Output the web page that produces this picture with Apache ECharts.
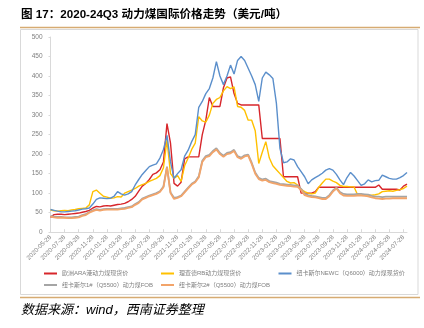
<!DOCTYPE html>
<html>
<head>
<meta charset="utf-8">
<script src="https://cdn.jsdelivr.net/npm/echarts@6/dist/echarts.min.js"></script>
<style>
html,body{margin:0;padding:0;background:#fff;}
#c{width:424px;height:328px;}
</style>
</head>
<body>
<div id="c"></div>
<script>
const titleText = '图 17：2020-24Q3 动力煤国际价格走势（美元/吨）';
const sourceText = '数据来源：wind，西南证券整理';
const tickLabels = ['2020-05-28','2020-07-28','2020-09-28','2020-11-28','2021-01-28','2021-03-28','2021-05-28','2021-07-28','2021-09-28','2021-11-28','2022-01-28','2022-03-28','2022-05-28','2022-07-28','2022-09-28','2022-11-28','2023-01-28','2023-03-28','2023-05-28','2023-07-28','2023-09-28','2023-11-28','2024-01-28','2024-03-28','2024-05-28','2024-07-28'];
const seriesNames = ['欧洲ARA港动力煤现货价','理查德RB动力煤现货价','纽卡斯尔NEWC（Q6000）动力煤现货价','纽卡斯尔1#（Q5500）动力煤FOB','纽卡斯尔2#（Q5500）动力煤FOB'];
const yTicks = [0,50,100,150,200,250,300,350,400,450,500];

// semi-monthly values
const ara = [38,45,46,46,45,46,47,48,49,51, 53,56,62,66,65,67,68,67,69,71, 72,74,78,84,92,105,118,125,135,148, 152,160,180,278,228,125,118,128,188,193, 193,193,193,250,287,345,322,322,322,370, 395,398,355,330,326,326,326,326,326,326, 240,240,240,240,240,240,142,142,142,142, 142,100,100,100,100,104,115,115,115,115, 115,115,115,115,115,115,115,115,115,115, 115,115,115,121,110,110,110,110,110,108, 118,123];
const rb = [57,55,54,55,56,55,57,58,60,61, 62,70,104,108,100,92,90,87,88,91, 90,100,104,108,112,118,122,125,130,134, 138,145,165,236,150,138,145,130,170,190, 212,228,296,285,282,300,330,340,345,362, 373,368,372,322,320,312,287,287,260,176, 205,232,190,170,160,150,140,130,126,127, 121,110,104,100,98,100,115,126,136,136, 131,127,120,117,117,116,116,96,95,95, 95,95,96,98,104,105,106,105,107,109, 112,118];
const newc = [58,56,54,52,52,53,54,55,57,59, 60,62,72,84,88,87,86,87,92,104, 98,95,98,104,121,135,148,158,168,172, 175,190,212,248,180,138,150,160,195,210, 232,250,320,335,355,368,395,437,400,378, 400,428,405,440,450,440,420,400,378,335, 395,410,403,394,330,215,178,180,188,185, 168,155,142,124,134,140,145,151,159,163, 159,148,134,122,140,153,144,132,120,124, 134,129,132,133,146,142,138,136,136,140, 145,153];
const fob1 = [42,40,39,39,38,38,38,39,40,44, 46,52,56,59,57,59,60,60,60,60, 61,62,64,66,72,77,86,90,94,97, 100,105,117,168,102,88,90,94,104,114, 124,130,143,183,195,198,208,215,203,196, 203,205,211,195,191,197,199,178,153,139, 135,137,131,129,127,124,123,122,121,120, 119,111,98,95,93,92,90,88,88,95, 107,114,103,98,97,97,97,98,98,97, 96,93,91,91,90,91,91,91,91,91, 91,91];
const fob2 = [40,38,37,37,37,36,36,37,38,42, 44,50,54,57,55,57,58,58,58,58, 59,60,62,64,70,75,84,88,92,95, 98,103,115,166,100,85,88,92,102,112, 122,128,140,180,192,195,205,212,200,193, 200,202,208,192,188,194,196,175,150,136, 132,134,128,126,124,121,120,119,118,117, 116,108,95,92,90,89,87,85,85,92, 104,112,100,94,93,93,93,94,94,93, 92,89,87,86,85,86,86,87,87,87, 87,87];

const colors = ['#D7262B','#FFC000','#5B8FCB','#A5A5A5','#F2A46A'];

// categories: each tick label followed by three half-month slots, plus one trailing slot
const categories = [];
tickLabels.forEach((t, k) => {
  categories.push(t);
  if (k < tickLabels.length - 1) { categories.push(t + '_a', t + '_b', t + '_c'); }
});
categories.push(tickLabels[tickLabels.length - 1] + '_a');

const FONT = '"Liberation Sans", "Noto Sans CJK SC", sans-serif';
const allData = [ara, rb, newc, fob1, fob2];

function lg(i, left, top) {
  return {
    data: [seriesNames[i]], left: left, top: top, padding: 0,
    icon: 'rect', itemWidth: 13, itemHeight: 2, selectedMode: false,
    textStyle: { fontSize: 6, color: '#7F7F7F', fontFamily: FONT }
  };
}

const chart = echarts.init(document.getElementById('c'), null, { renderer: 'canvas' });
chart.setOption({
  animation: false,
  backgroundColor: '#fff',
  title: [
    { text: titleText, left: 21, top: 9, padding: 0,
      textStyle: { fontSize: 11.6, fontWeight: 'bold', color: '#000', fontFamily: FONT } },
    { text: sourceText, left: 21, top: 304, padding: 0,
      textStyle: { fontSize: 13, fontWeight: 'normal', fontStyle: 'italic', color: '#000', fontFamily: FONT } }
  ],
  graphic: [
    { type: 'line', shape: { x1: 20, y1: 27.5, x2: 420, y2: 27.5 }, style: { stroke: '#D6AB72', lineWidth: 1.5 }, silent: true },
    { type: 'rect', shape: { x: 20.5, y: 29.5, width: 397.5, height: 265 }, style: { fill: 'none', stroke: '#D9D9D9', lineWidth: 1 }, silent: true },
    { type: 'line', shape: { x1: 20, y1: 297.5, x2: 420, y2: 297.5 }, style: { stroke: '#D6AB72', lineWidth: 1.5 }, silent: true }
  ],
  legend: [
    lg(0, 44, 270.5), lg(1, 161, 270.5), lg(2, 278.5, 270.5),
    lg(3, 44, 282), lg(4, 161, 282)
  ],
  grid: { left: 50.5, right: 17, top: 37, bottom: 95.8, containLabel: false },
  xAxis: {
    type: 'category', data: categories, boundaryGap: false,
    axisLine: { lineStyle: { color: '#D9D9D9', width: 1 } },
    axisTick: { show: true, interval: 3, inside: true, length: 3, lineStyle: { color: '#D9D9D9' } },
    axisLabel: { interval: 3, rotate: 45, fontSize: 6.3, color: '#7F7F7F', margin: 4, fontFamily: FONT },
    splitLine: { show: false }
  },
  yAxis: {
    type: 'value', min: yTicks[0], max: yTicks[yTicks.length - 1], interval: 50,
    axisLine: { show: true, lineStyle: { color: '#D9D9D9', width: 1 } },
    axisTick: { show: true, length: 2, lineStyle: { color: '#D9D9D9' } },
    axisLabel: { fontSize: 6.5, color: '#7F7F7F', margin: 8, fontFamily: FONT },
    splitLine: { show: false }
  },
  series: seriesNames.map((n, i) => ({
    name: n, type: 'line', data: allData[i], symbol: 'none', showSymbol: false,
    color: colors[i],
    lineStyle: { color: colors[i], width: i >= 3 ? 1.8 : 1.4 },
    z: 2 + i
  }))
});
</script>
</body>
</html>
